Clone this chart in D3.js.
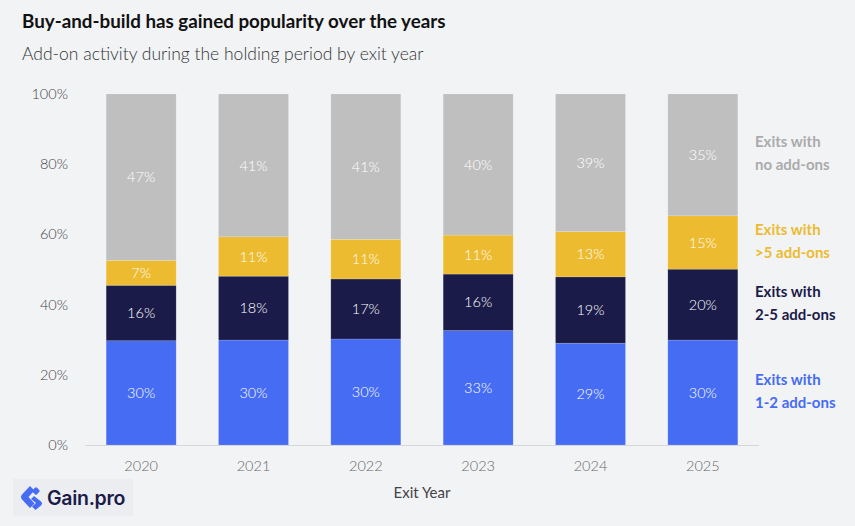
<!DOCTYPE html>
<html>
<head>
<meta charset="utf-8">
<script src="https://cdn.jsdelivr.net/npm/d3@7"></script>
<style>
  body { margin: 0; background: #f2f3f5; }
  svg { display: block; font-family: "Source Sans Pro", Lato, "Noto Sans", sans-serif; }
</style>
</head>
<body>
<div id="chart"></div>
<script>
const width = 855;
const height = 526;

// data (shares in %)
const years = ["2020", "2021", "2022", "2023", "2024", "2025"];
const oneToTwo = [29.7, 29.9, 30.2, 32.6, 29.0, 29.9];
const twoToFive = [15.8, 18.2, 17.1, 16.1, 18.9, 20.2];
const overFive = [7.1, 11.2, 11.3, 11.1, 12.9, 15.2];
const noAddons = [47.4, 40.7, 41.4, 40.2, 39.2, 34.7];
const seriesKeys = ["oneToTwo", "twoToFive", "overFive", "noAddons"];
const seriesLabels = [["Exits with", "1-2 add-ons"], ["Exits with", "2-5 add-ons"], ["Exits with", ">5 add-ons"], ["Exits with", "no add-ons"]];
const yTicks = [0, 20, 40, 60, 80, 100];

const colors = ["#456cf2", "#1b1b49", "#ecbb2f", "#bfbfbf"];
const legendColors = ["#456cf2", "#1b1b49", "#ecbb2f", "#ababab"];

const rows = years.map((y, i) => ({
  year: y,
  oneToTwo: oneToTwo[i],
  twoToFive: twoToFive[i],
  overFive: overFive[i],
  noAddons: noAddons[i]
}));

const svg = d3.select('#chart')
  .append('svg')
  .attr('width', width)
  .attr('height', height);

// titles
svg.append('text')
  .attr('x', 22).attr('y', 28)
  .attr('font-size', 18.8).attr('font-weight', 700)
  .attr('fill', '#111')
  .text('Buy-and-build has gained popularity over the years');

svg.append('text')
  .attr('x', 22).attr('y', 59.5)
  .attr('font-size', 17.5).attr('font-weight', 300)
  .attr('fill', '#333')
  .text('Add-on activity during the holding period by exit year');

//Scales
const x = d3.scaleBand()
  .domain(years)
  .range([85, 759])
  .paddingInner(0.377)
  .paddingOuter(0.1885);

const y = d3.scaleLinear()
  .domain([0, 100])
  .range([445, 94]);

const stack = d3.stack().keys(seriesKeys)(rows);

//Bars
const layers = svg.append('g')
  .selectAll('g')
  .data(stack)
  .enter().append('g')
  .attr('fill', (d, i) => colors[i]);

layers.selectAll('rect')
  .data(d => d)
  .enter().append('rect')
  .attr('x', d => x(d.data.year))
  .attr('width', x.bandwidth())
  .attr('y', d => y(d[1]))
  .attr('height', d => y(d[0]) - y(d[1]))
  .attr('stroke', '#ffffff')
  .attr('stroke-opacity', 0.25)
  .attr('stroke-width', 0.6);

layers.selectAll('text')
  .data(d => d)
  .enter().append('text')
  .attr('x', d => x(d.data.year) + x.bandwidth() / 2)
  .attr('y', d => (y(d[0]) + y(d[1])) / 2)
  .attr('dy', '0.35em')
  .attr('text-anchor', 'middle')
  .attr('font-size', 14.5)
  .attr('font-weight', 300)
  .attr('fill', '#ffffff')
  .text(d => Math.round(d[1] - d[0]) + '%');

//Y axis labels
svg.append('g')
  .selectAll('text')
  .data(yTicks)
  .enter().append('text')
  .attr('x', 68)
  .attr('y', d => y(d))
  .attr('dy', '0.35em')
  .attr('text-anchor', 'end')
  .attr('font-size', 14.5)
  .attr('font-weight', 300)
  .attr('fill', '#444')
  .text(d => d + '%');

//X axis
const xAxis = svg.append('g')
  .attr('transform', 'translate(0,445)')
  .call(d3.axisBottom(x).tickSize(0).tickPadding(16))
  .attr('font-family', null)
  .attr('font-size', null);
xAxis.select('.domain').attr('stroke', '#d6d7da').attr('stroke-width', 1.2)
  .attr('d', 'M85,0.5H759');
xAxis.selectAll('text')
  .attr('font-size', 14.5)
  .attr('font-weight', 300)
  .attr('fill', '#666');

svg.append('text')
  .attr('x', (85 + 759) / 2).attr('y', 493)
  .attr('dy', '0.35em')
  .attr('text-anchor', 'middle')
  .attr('font-size', 15)
  .attr('fill', '#444')
  .text('Exit Year');

//Legend next to last bar
const last = stack.map(s => s[s.length - 1]);
const legend = svg.append('g')
  .selectAll('text')
  .data(last)
  .enter().append('text')
  .attr('x', 755)
  .attr('y', d => (y(d[0]) + y(d[1])) / 2 - 13)
  .attr('font-size', 15)
  .attr('font-weight', 700)
  .attr('fill', (d, i) => legendColors[i]);

legend.selectAll('tspan')
  .data((d, i) => seriesLabels[i])
  .enter().append('tspan')
  .attr('x', 755)
  .attr('dy', (d, i) => i === 0 ? '0.35em' : 23)
  .text(d => d);

//Logo
const logo = svg.append('g').attr('transform', 'translate(13,479)');
logo.append('rect')
  .attr('width', 120).attr('height', 37)
  .attr('fill', '#ebedf1');
const mark = logo.append('g')
  .attr('transform', 'translate(7,7)')
  .attr('fill', '#456cf2');
mark.append('path')
  .attr('d', 'M10,0 L2,8.5 Q0,11 2,13.5 L10,22 L14.5,17.5 L8.5,11 L14.5,4.5 Z');
mark.append('rect')
  .attr('x', 13).attr('y', 2).attr('width', 6).attr('height', 6)
  .attr('rx', 1.5)
  .attr('transform', 'rotate(45 16 5)');
mark.append('path')
  .attr('d', 'M14,10 L21,15.5 Q23,17.5 21,19.5 L15.5,24 L12,20.5 L16,17 L11,13 Z');
logo.append('text')
  .attr('x', 34).attr('y', 19)
  .attr('dy', '0.35em')
  .attr('font-family', 'Inter, "Noto Sans", sans-serif')
  .attr('font-size', 19.5)
  .attr('font-weight', 600)
  .attr('letter-spacing', -0.3)
  .attr('fill', '#1b1b49')
  .text('Gain.pro');
</script>
</body>
</html>
